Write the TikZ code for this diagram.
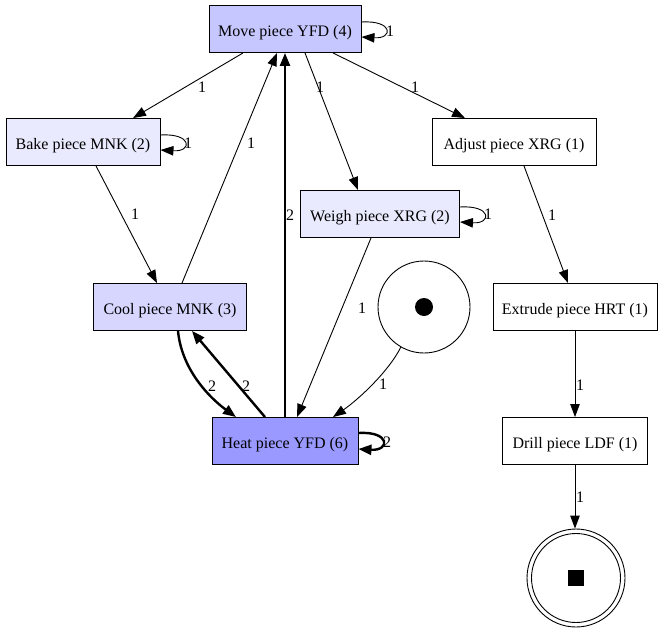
\documentclass[tikz,border=0pt]{standalone}
\usepackage{fontspec}
\setmainfont{Liberation Serif}
\usetikzlibrary{arrows.meta}
\definecolor{heatfill}{RGB}{153,153,255}
\definecolor{movefill}{RGB}{199,199,255}
\definecolor{coolfill}{RGB}{214,214,255}
\definecolor{lightfill}{RGB}{234,234,255}
\tikzset{
  act/.style={draw=black, line width=0.9pt, rectangle, inner sep=0pt,
    minimum height=47pt, text height=15pt, text depth=0pt,
    font=\fontsize{16}{19}\selectfont},
  lbl/.style={inner sep=0pt, font=\fontsize{16}{19}\selectfont},
  arr/.style={line width=0.9pt, -{Triangle[length=13pt,width=9.5pt]}},
  thick arr/.style={line width=2.4pt, -{Triangle[length=13pt,width=10pt]}},
}
\begin{document}
\begin{tikzpicture}[x=1pt,y=-1pt]
\useasboundingbox (0,0) rectangle (664,632);

% activities
\node[act, fill=movefill,  minimum width=152pt] (move)    at (285,29)  {Move piece YFD (4)};
\node[act, fill=lightfill, minimum width=154pt] (bake)    at (83,142)  {Bake piece MNK (2)};
\node[act, fill=white,     minimum width=164pt] (adjust)  at (514,142) {Adjust piece XRG (1)};
\node[act, fill=lightfill, minimum width=159pt] (weigh)   at (380,214) {Weigh piece XRG (2)};
\node[act, fill=coolfill,  minimum width=153pt] (cool)    at (170,307) {Cool piece MNK (3)};
\node[act, fill=white,     minimum width=164pt] (extrude) at (575,307) {Extrude piece HRT (1)};
\node[act, fill=heatfill,  minimum width=146pt] (heat)    at (285,441) {Heat piece YFD (6)};
\node[act, fill=white,     minimum width=145pt] (drill)   at (575,441) {Drill piece LDF (1)};

% start and end places
\node[draw, circle, line width=0.9pt, minimum size=92pt, inner sep=0pt] (start) at (424,307) {};
\node[fill=black, circle, minimum size=18pt, inner sep=0pt] (startdot) at (start.center) {};
\node[draw, circle, line width=0.9pt, minimum size=98pt, inner sep=0pt] (end) at (576,578) {};
\node[draw, circle, line width=0.9pt, minimum size=89pt, inner sep=0pt] (endin) at (end.center) {};
\node[fill=black, rectangle, minimum size=16pt, inner sep=0pt] (endsq) at (end.center) {};

% arcs out of Move
\draw[arr] ([xshift=-42pt]move.south) -- ([xshift=50pt]bake.north);
\draw[arr] ([xshift=20pt]move.south) -- ([xshift=-22pt]weigh.north);
\draw[arr] ([xshift=48pt]move.south) -- ([xshift=-49pt]adjust.north);
\draw[arr] ([yshift=7pt]move.east) .. controls +(32,-2) and +(32,2) .. ([yshift=-8pt]move.east);

% Bake
\draw[arr] ([yshift=7pt]bake.east) .. controls +(32,-2) and +(32,2) .. ([yshift=-8pt]bake.east);
\draw[arr] ([xshift=13pt]bake.south) -- ([xshift=-13pt]cool.north);

% Weigh
\draw[arr] ([yshift=7pt]weigh.east) .. controls +(32,-2) and +(32,2) .. ([yshift=-8pt]weigh.east);
\draw[arr] ([xshift=-9pt]weigh.south) -- ([xshift=12pt]heat.north);

% Cool
\draw[arr] ([xshift=12pt]cool.north) -- ([xshift=-8pt]move.south);
\draw[thick arr] ([xshift=8pt]cool.south) .. controls +(4,42) and +(-22,-16) .. ([xshift=-49pt]heat.north);

% Heat
\draw[thick arr] (heat.north) -- (move.south);
\draw[thick arr] ([xshift=-20pt]heat.north) -- ([xshift=22pt]cool.south);
\draw[thick arr] ([yshift=8pt]heat.east) .. controls +(32,-2) and +(32,2) .. ([yshift=-8pt]heat.east);

% start place
\draw[arr] (start.240) .. controls +(-12,24) and +(26,-18) .. ([xshift=48pt]heat.north);

% right-hand chain
\draw[arr] ([xshift=10pt]adjust.south) -- ([xshift=-7pt]extrude.north);
\draw[arr] (extrude.south) -- (drill.north);
\draw[arr] (drill.south) -- ([xshift=-1pt]end.north);

% arc weights
\node[lbl] (wmb) at (202,87)  {1};
\node[lbl] (wmw) at (320,87)  {1};
\node[lbl] (wma) at (415,87)  {1};
\node[lbl] (wmm) at (390,31)  {1};
\node[lbl] (wbb) at (188,143) {1};
\node[lbl] (wbc) at (135,214) {1};
\node[lbl] (wcm) at (251,143) {1};
\node[lbl] (whm) at (290,215) {2};
\node[lbl] (www) at (488,214) {1};
\node[lbl] (wwh) at (362,308) {1};
\node[lbl] (wsh) at (383,384) {1};
\node[lbl] (wch) at (212,386) {2};
\node[lbl] (whc) at (246,386) {2};
\node[lbl] (whh) at (387,442) {2};
\node[lbl] (wae) at (552,215) {1};
\node[lbl] (wed) at (580,385) {1};
\node[lbl] (wde) at (580,497) {1};
\end{tikzpicture}
\end{document}
